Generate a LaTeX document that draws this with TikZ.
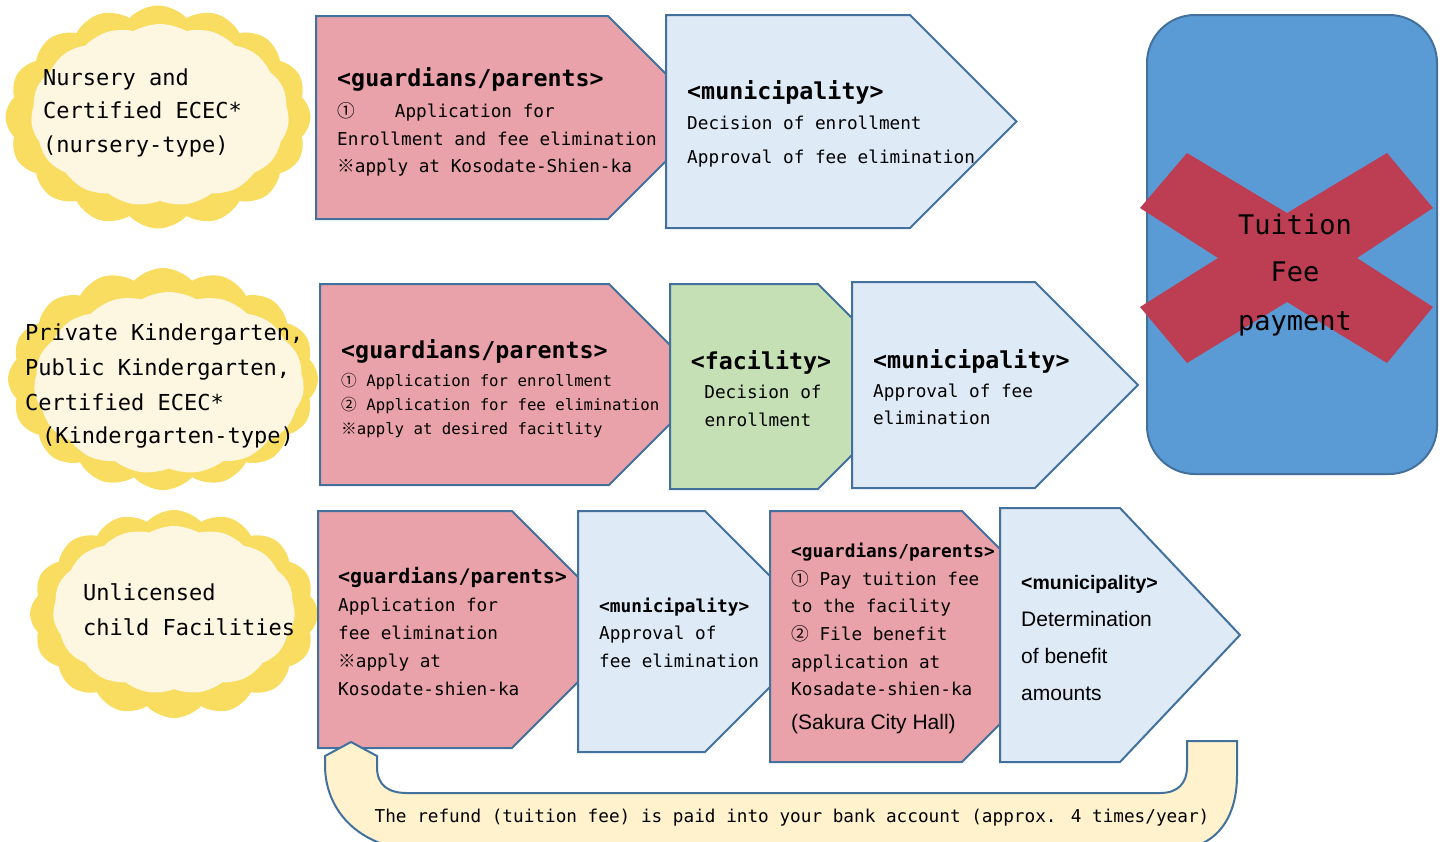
\documentclass[tikz,border=0pt]{standalone}
\usepackage{fontspec}
\setmainfont{DejaVu Sans Mono}
\newfontfamily\cjkfont{Noto Sans CJK JP}
\newfontfamily\helv{Liberation Sans}
\usetikzlibrary{shapes.symbols}
\newcommand{\myone}{{\cjkfont ①}}
\newcommand{\mytwo}{{\cjkfont ②}}
\newcommand{\myref}{{\cjkfont ※}}
\definecolor{bordr}{HTML}{41719C}
\definecolor{pinkf}{HTML}{EAA2AA}
\definecolor{bluef}{HTML}{DEEAF6}
\definecolor{greenf}{HTML}{C5E0B4}
\definecolor{cloudy}{HTML}{F9DD61}
\definecolor{cloudc}{HTML}{FDF6E0}
\definecolor{bigblue}{HTML}{5B9BD5}
\definecolor{redx}{HTML}{BD3E52}
\definecolor{ufill}{HTML}{FFF2CC}
\begin{document}
\begin{tikzpicture}[x=1pt,y=-1pt,
  penta/.style={draw=bordr, line width=2pt, line join=miter},
  outcloud/.style={cloud, cloud puffs=16, cloud puff arc=95, cloud ignores aspect, fill=cloudy, draw=none, inner sep=0pt},
  incloud/.style={cloud, cloud puffs=15, cloud puff arc=60, cloud ignores aspect, fill=cloudc, draw=none, inner sep=0pt},
  cltxt/.style={anchor=base west, inner sep=0pt, font=\fontsize{22}{24}\selectfont},
  bodytxt/.style={anchor=base west, inner sep=0pt, font=\fontsize{17.7}{20}\selectfont},
  smalltxt/.style={anchor=base west, inner sep=0pt, font=\fontsize{15.7}{18}\selectfont},
  headtxt/.style={anchor=base west, inner sep=0pt, font=\fontsize{23.3}{26}\selectfont\bfseries},
  midhead/.style={anchor=base west, inner sep=0pt, font=\fontsize{20}{22}\selectfont\bfseries},
  smallhead/.style={anchor=base west, inner sep=0pt, font=\fontsize{17.8}{20}\selectfont\bfseries},
  helvtxt/.style={anchor=base west, inner sep=0pt, font=\helv\fontsize{21}{24}\selectfont},
  helvhead/.style={anchor=base west, inner sep=0pt, font=\helv\fontsize{19.5}{22}\selectfont\bfseries},
  bigtxt/.style={anchor=base, inner sep=0pt, font=\fontsize{27}{30}\selectfont}
]
\useasboundingbox (0,0) rectangle (1445,841);

% ---------- clouds ----------
\node[outcloud, minimum width=305pt, minimum height=223pt] (c1o) at (158,117) {};
\node[incloud, minimum width=258pt, minimum height=182pt] (c1i) at (160,115) {};
\node[outcloud, minimum width=310pt, minimum height=222pt] (c2o) at (163,379) {};
\node[incloud, minimum width=270pt, minimum height=182pt] (c2i) at (169,383) {};
\node[outcloud, minimum width=288pt, minimum height=208pt] (c3o) at (174,614) {};
\node[incloud, minimum width=242pt, minimum height=168pt] (c3i) at (174,610) {};

\node[cltxt] (c1a) at (43,85) {Nursery and};
\node[cltxt] (c1b) at (43,118) {Certified ECEC*};
\node[cltxt] (c1c) at (43,152) {(nursery-type)};
\node[cltxt] (c2a) at (25,340) {Private Kindergarten,};
\node[cltxt] (c2b) at (25,375) {Public Kindergarten,};
\node[cltxt] (c2c) at (25,410) {Certified ECEC*};
\node[cltxt] (c2d) at (42,443) {(Kindergarten-type)};
\node[cltxt] (c3a) at (83,600) {Unlicensed};
\node[cltxt] (c3b) at (83,635) {child Facilities};

% ---------- row 1 ----------
\path[penta, fill=pinkf] (316,16) -- (608,16) -- (709.5,117.5) -- (608,219) -- (316,219) -- cycle;
\path[penta, fill=bluef] (666,15) -- (910,15) -- (1016.5,121.5) -- (910,228) -- (666,228) -- cycle;
\node[headtxt] (p1h) at (337,86) {<guardians/parents>};
\node[bodytxt] (p1a) at (337,117) {\myone\hspace{40pt}Application for};
\node[bodytxt] (p1b) at (337,145) {Enrollment and fee elimination};
\node[bodytxt] (p1c) at (337,172) {\myref apply at Kosodate-Shien-ka};
\node[headtxt] (b1h) at (687,99) {<municipality>};
\node[bodytxt] (b1a) at (687,129) {Decision of enrollment};
\node[bodytxt] (b1b) at (687,163) {Approval of fee elimination};

% ---------- row 2 ----------
\path[penta, fill=pinkf] (320,284) -- (609,284) -- (709.5,384.5) -- (609,485) -- (320,485) -- cycle;
\path[penta, fill=greenf] (670,284) -- (818,284) -- (920.5,386.5) -- (818,489) -- (670,489) -- cycle;
\path[penta, fill=bluef] (852,282) -- (1035,282) -- (1138,385) -- (1035,488) -- (852,488) -- cycle;
\node[headtxt] (p2h) at (341,358) {<guardians/parents>};
\node[smalltxt] (p2a) at (341,386) {\myone{} Application for enrollment};
\node[smalltxt] (p2b) at (341,410) {\mytwo{} Application for fee elimination};
\node[smalltxt] (p2c) at (341,434) {\myref apply at desired facitlity};
\node[headtxt, anchor=base] (g2h) at (761,369) {<facility>};
\node[bodytxt, anchor=base] (g2a) at (763,398) {Decision of};
\node[bodytxt, anchor=base] (g2b) at (758,426) {enrollment};
\node[headtxt] (b2h) at (873,368) {<municipality>};
\node[bodytxt] (b2a) at (873,397) {Approval of fee};
\node[bodytxt] (b2b) at (873,424) {elimination};

% ---------- row 3 ----------
\path[penta, fill=pinkf] (318,511) -- (512,511) -- (630.5,629.5) -- (512,748) -- (318,748) -- cycle;
\path[penta, fill=bluef] (578,511) -- (705,511) -- (825.5,631.5) -- (705,752) -- (578,752) -- cycle;
\path[penta, fill=pinkf] (770,511) -- (962,511) -- (1087.5,636.5) -- (962,762) -- (770,762) -- cycle;
\path[penta, fill=bluef] (1000,508) -- (1120,508) -- (1240,635) -- (1120,762) -- (1000,762) -- cycle;
\node[midhead] (p3h) at (338,583) {<guardians/parents>};
\node[bodytxt] (p3a) at (338,611) {Application for};
\node[bodytxt] (p3b) at (338,639) {fee elimination};
\node[bodytxt] (p3c) at (338,667) {\myref apply at};
\node[bodytxt] (p3d) at (338,695) {Kosodate-shien-ka};
\node[smallhead] (b3h) at (599,612) {<municipality>};
\node[bodytxt] (b3a) at (599,639) {Approval of};
\node[bodytxt] (b3b) at (599,667) {fee elimination};
\node[smallhead] (p4h) at (791,557) {<guardians/parents>};
\node[bodytxt] (p4a) at (791,585) {\myone{} Pay tuition fee};
\node[bodytxt] (p4b) at (791,612) {to the facility};
\node[bodytxt] (p4c) at (791,640) {\mytwo{} File benefit};
\node[bodytxt] (p4d) at (791,668) {application at};
\node[bodytxt] (p4e) at (791,695) {Kosadate-shien-ka};
\node[helvtxt] (p4f) at (791,729) {(Sakura City Hall)};
\node[helvhead] (b4h) at (1021,589) {<municipality>};
\node[helvtxt] (b4a) at (1021,626) {Determination};
\node[helvtxt] (b4b) at (1021,663) {of benefit};
\node[helvtxt] (b4c) at (1021,700) {amounts};

% ---------- refund U arrow ----------
\begin{scope}
\clip (0,0) rectangle (1445,841);
\path[draw=bordr, line width=2pt, fill=ufill, line join=miter]
  (351,742) -- (377,756) -- (377,767) .. controls (377,785) and (388,793) .. (407,793)
  -- (1160,793) .. controls (1178,793) and (1187,783) .. (1187,767)
  -- (1187,741) -- (1237,741) -- (1237,775) .. controls (1237,820) and (1215,850) .. (1170,850)
  -- (420,850) .. controls (365,850) and (325,815) .. (325,765) -- (325,756) -- cycle;
\end{scope}
\node[bodytxt, anchor=base] (refund) at (792,822) {The refund (tuition fee) is paid into your bank account (approx. 4 times/year)};

% ---------- tuition fee box ----------
\draw[draw=bordr, line width=2pt, fill=bigblue, rounded corners=48pt] (1147,15) rectangle (1437,474);
\fill[redx] (1187,153) -- (1287,213) -- (1387,153) -- (1433,208) -- (1357,258) -- (1433,307)
  -- (1387,363) -- (1287,302) -- (1187,363) -- (1140,307) -- (1218,258) -- (1140,208) -- cycle;
\node[bigtxt] (tf1) at (1295,234) {Tuition};
\node[bigtxt] (tf2) at (1295,281) {Fee};
\node[bigtxt] (tf3) at (1295,330) {payment};
\end{tikzpicture}
\end{document}
